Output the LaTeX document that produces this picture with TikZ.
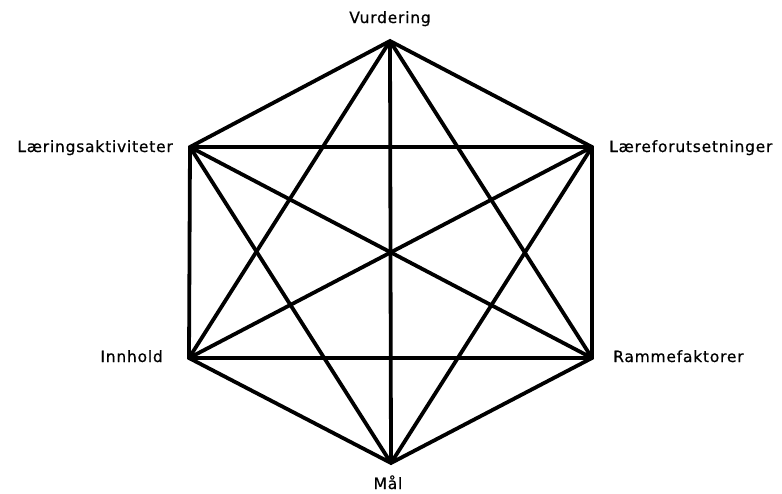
\documentclass[tikz,border=0pt]{standalone}
\usepackage{fontspec}
\setmainfont[LetterSpace=5,FakeBold=0.6]{DejaVu Sans}
\begin{document}
\begin{tikzpicture}[x=1pt,y=-1pt,
  edge/.style={line width=3.8pt,black},
  lbl/.style={inner sep=0pt,font=\fontsize{15.5}{17}\selectfont}]
\useasboundingbox (0,0) rectangle (782,493);
\coordinate (T) at (390,41);
\coordinate (UR) at (592,147);
\coordinate (LR) at (592,358);
\coordinate (B) at (391,463);
\coordinate (LL) at (189,358);
\coordinate (UL) at (190,147);
\draw[edge,line join=miter] (T) -- (UR) -- (LR) -- (B) -- (LL) -- (UL) -- cycle;
\draw[edge] (T) -- (B);
\draw[edge] (T) -- (LL);
\draw[edge] (T) -- (LR);
\draw[edge] (UL) -- (UR);
\draw[edge] (UL) -- (LR);
\draw[edge] (UL) -- (B);
\draw[edge] (UR) -- (LL);
\draw[edge] (UR) -- (B);
\draw[edge] (LL) -- (LR);
\node[lbl,anchor=base] (vur) at (390,23) {Vurdering};
\node[lbl,anchor=base east] (lak) at (173,152) {Læringsaktiviteter};
\node[lbl,anchor=base west] (lfo) at (609,152) {Læreforutsetninger};
\node[lbl,anchor=base east] (inn) at (163,362) {Innhold};
\node[lbl,anchor=base west] (ram) at (613,362) {Rammefaktorer};
\node[lbl,anchor=base] (mal) at (388,489) {Mål};
\end{tikzpicture}
\end{document}
